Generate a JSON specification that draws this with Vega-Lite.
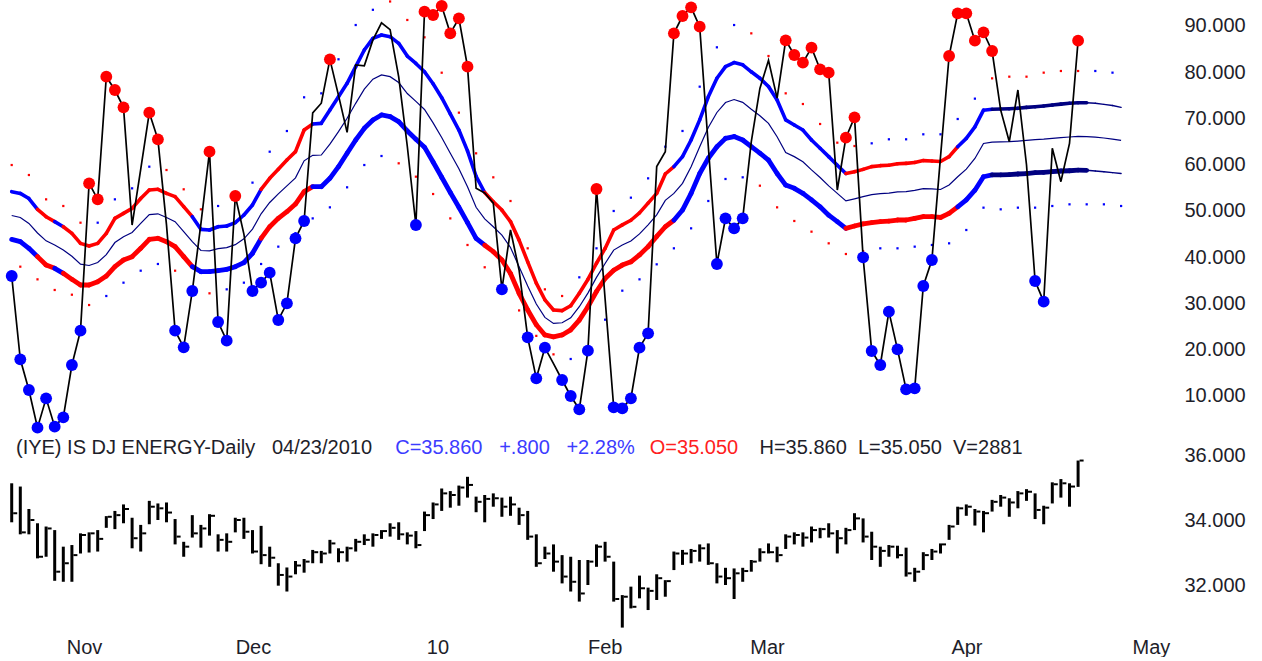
{
"$schema": "https://vega.github.io/schema/vega-lite/v6.json",
"width": 1170, "height": 630,
"padding": 0,
"view": {"stroke": null},
"data": {"values": [
{"i":0,"osc":35.94,"mk":"b","ub":54.18,"mb":49.03,"lb":43.87,"tr":"b","od":59.94,"dc":"r","h":35.16,"l":33.96,"c":34.24},
{"i":1,"osc":17.93,"mk":"b","ub":53.8,"mb":48.59,"lb":43.37,"tr":"b","od":37.96,"dc":"r","h":35.06,"l":33.59,"c":33.65},
{"i":2,"osc":11.3,"mk":"b","ub":52.7,"mb":47.32,"lb":41.93,"tr":"b","od":57.78,"dc":"r","h":34.37,"l":33.59,"c":34.03},
{"i":3,"osc":3.15,"mk":"b","ub":50.36,"mb":45.25,"lb":40.13,"tr":"r","od":35.22,"dc":"r","h":33.93,"l":32.85,"c":32.9},
{"i":4,"osc":9.49,"mk":"b","ub":48.77,"mb":43.55,"lb":38.32,"tr":"r","od":52.52,"dc":"r","h":33.83,"l":32.9,"c":33.77},
{"i":5,"osc":3.37,"mk":"b","ub":47.69,"mb":42.65,"lb":37.6,"tr":"b","od":32.92,"dc":"r","h":33.72,"l":32.16,"c":32.44},
{"i":6,"osc":5.39,"mk":"b","ub":46.6,"mb":41.56,"lb":36.52,"tr":"r","od":51.08,"dc":"r","h":33.21,"l":32.13,"c":32.7},
{"i":7,"osc":16.7,"mk":"b","ub":45.17,"mb":40.2,"lb":35.22,"tr":"r","od":31.9,"dc":"r","h":33.26,"l":32.13,"c":32.95},
{"i":8,"osc":24.12,"mk":"b","ub":43.0,"mb":38.5,"lb":34.0,"tr":"r","od":47.47,"dc":"r","h":33.62,"l":33.0,"c":33.57},
{"i":9,"osc":55.98,"mk":"r","ub":42.43,"mb":38.22,"lb":34.0,"tr":"r","od":29.67,"dc":"r","h":33.65,"l":33.03,"c":33.62},
{"i":10,"osc":52.52,"mk":"r","ub":43.0,"mb":38.86,"lb":34.72,"tr":"r","od":47.47,"dc":"b","h":33.72,"l":33.06,"c":33.45},
{"i":11,"osc":79.04,"mk":"r","ub":45.17,"mb":40.56,"lb":35.94,"tr":"r","od":31.62,"dc":"b","h":34.15,"l":33.79,"c":34.13},
{"i":12,"osc":76.16,"mk":"r","ub":48.4,"mb":43.18,"lb":37.96,"tr":"r","od":52.52,"dc":"b","h":34.31,"l":33.75,"c":34.18},
{"i":13,"osc":72.41,"mk":"r","ub":49.49,"mb":44.45,"lb":39.4,"tr":"r","od":34.5,"dc":"b","h":34.51,"l":33.93,"c":34.37},
{"i":14,"osc":46.97,"ub":50.57,"mb":45.35,"lb":40.13,"tr":"r","od":54.9,"dc":"b","h":34.1,"l":33.16,"c":33.47},
{"i":15,"osc":59.0,"ub":52.7,"mb":47.32,"lb":41.93,"tr":"r","od":37.09,"dc":"b","h":33.88,"l":33.06,"c":33.62},
{"i":16,"osc":71.26,"mk":"r","ub":54.54,"mb":49.21,"lb":43.87,"tr":"r","od":59.58,"dc":"b","h":34.62,"l":33.9,"c":34.44},
{"i":17,"osc":65.49,"mk":"r","ub":54.69,"mb":49.39,"lb":44.09,"tr":"r","od":38.54,"dc":"b","h":34.54,"l":34.03,"c":34.39},
{"i":18,"osc":47.0,"ub":53.82,"mb":48.6,"lb":43.37,"tr":"r","od":58.86,"dc":"r","h":34.57,"l":33.96,"c":34.26},
{"i":19,"osc":24.12,"mk":"b","ub":53.1,"mb":47.7,"lb":42.29,"tr":"r","od":37.09,"dc":"r","h":34.06,"l":33.28,"c":33.52},
{"i":20,"osc":20.52,"mk":"b","ub":50.94,"mb":45.54,"lb":40.13,"tr":"r","od":54.69,"dc":"r","h":33.36,"l":32.9,"c":33.21},
{"i":21,"osc":32.7,"mk":"b","ub":48.77,"mb":43.37,"lb":37.96,"tr":"b","od":32.3,"dc":"r","h":34.18,"l":33.49,"c":33.62},
{"i":22,"osc":47.2,"ub":46.03,"mb":41.46,"lb":36.88,"tr":"b","od":50.36,"dc":"r","h":33.88,"l":33.18,"c":33.77},
{"i":23,"osc":62.83,"mk":"r","ub":45.89,"mb":41.39,"lb":36.88,"tr":"b","od":32.2,"dc":"r","h":34.21,"l":33.55,"c":34.16},
{"i":24,"osc":26.0,"mk":"b","ub":46.6,"mb":41.85,"lb":37.1,"tr":"b","od":51.08,"dc":"b","h":33.59,"l":33.06,"c":33.42},
{"i":25,"osc":21.96,"mk":"b","ub":46.75,"mb":42.07,"lb":37.38,"tr":"b","od":33.06,"dc":"b","h":33.62,"l":33.06,"c":33.36},
{"i":26,"osc":53.24,"mk":"r","ub":47.47,"mb":42.72,"lb":37.96,"tr":"b","od":52.5,"dc":"b","h":34.1,"l":33.65,"c":34.03},
{"i":27,"osc":45.0,"ub":49.13,"mb":43.98,"lb":38.83,"tr":"b","od":34.5,"dc":"b","h":34.1,"l":33.45,"c":33.67},
{"i":28,"osc":32.7,"mk":"b","ub":51.3,"mb":46.08,"lb":40.85,"tr":"b","od":56.13,"dc":"b","h":33.72,"l":33.0,"c":33.06},
{"i":29,"osc":34.5,"mk":"b","ub":54.69,"mb":49.39,"lb":44.09,"tr":"r","od":38.54,"dc":"b","h":33.85,"l":32.67,"c":32.95},
{"i":30,"osc":36.67,"mk":"b","ub":57.06,"mb":51.84,"lb":46.61,"tr":"r","od":62.82,"dc":"b","h":33.21,"l":32.59,"c":32.87},
{"i":31,"osc":26.43,"mk":"b","ub":59.01,"mb":53.71,"lb":48.41,"tr":"r","od":42.29,"dc":"b","h":32.7,"l":32.01,"c":32.34},
{"i":32,"osc":30.03,"mk":"b","ub":61.03,"mb":55.44,"lb":49.85,"tr":"r","od":67.29,"dc":"b","h":32.57,"l":31.83,"c":32.29},
{"i":33,"osc":44.09,"mk":"b","ub":62.83,"mb":57.17,"lb":51.51,"tr":"r","od":45.2,"dc":"b","h":32.77,"l":32.36,"c":32.63},
{"i":34,"osc":47.84,"mk":"b","ub":67.51,"mb":60.85,"lb":54.18,"tr":"r","od":74.58,"dc":"b","h":32.83,"l":32.41,"c":32.75},
{"i":35,"osc":71.2,"ub":68.81,"mb":62.04,"lb":55.26,"tr":"b","od":48.4,"dc":"b","h":33.11,"l":32.7,"c":33.04},
{"i":36,"osc":73.3,"ub":68.95,"mb":62.1,"lb":55.26,"tr":"b","od":75.44,"dc":"b","h":33.08,"l":32.7,"c":33.0},
{"i":37,"osc":82.79,"mk":"r","ub":71.84,"mb":64.45,"lb":57.06,"tr":"b","od":50.79,"dc":"b","h":33.42,"l":33.0,"c":33.31},
{"i":38,"osc":75.0,"ub":74.72,"mb":67.15,"lb":59.58,"tr":"b","od":82.8,"dc":"b","h":33.16,"l":32.73,"c":33.04},
{"i":39,"osc":67.0,"ub":77.6,"mb":70.04,"lb":62.47,"tr":"b","od":55.12,"dc":"b","h":33.21,"l":32.75,"c":33.16},
{"i":40,"osc":81.6,"ub":81.2,"mb":73.28,"lb":65.35,"tr":"b","od":90.21,"dc":"b","h":33.45,"l":33.06,"c":33.36},
{"i":41,"osc":81.4,"ub":84.81,"mb":76.34,"lb":67.87,"tr":"b","od":59.94,"dc":"b","h":33.59,"l":33.26,"c":33.42},
{"i":42,"osc":87.0,"ub":87.33,"mb":78.5,"lb":69.67,"tr":"b","od":93.5,"dc":"b","h":33.62,"l":33.21,"c":33.57},
{"i":43,"osc":90.7,"ub":88.05,"mb":79.41,"lb":70.76,"tr":"b","od":61.89,"dc":"b","h":33.72,"l":33.45,"c":33.69},
{"i":44,"osc":89.2,"ub":87.69,"mb":79.05,"lb":70.4,"tr":"b","od":95.3,"dc":"r","h":33.93,"l":33.52,"c":33.79},
{"i":45,"osc":79.0,"ub":86.25,"mb":77.78,"lb":69.31,"tr":"b","od":60.31,"dc":"r","h":33.96,"l":33.42,"c":33.59},
{"i":46,"osc":64.0,"ub":83.5,"mb":75.4,"lb":67.3,"tr":"b","od":91.3,"dc":"r","h":33.65,"l":33.28,"c":33.55},
{"i":47,"osc":46.97,"mk":"b","ub":81.9,"mb":73.7,"lb":65.5,"tr":"b","od":57.42,"dc":"r","h":33.69,"l":33.16,"c":33.26},
{"i":48,"osc":93.1,"mk":"r","ub":80.1,"mb":71.95,"lb":63.8,"tr":"b","od":87.55,"dc":"r","h":34.29,"l":33.69,"c":34.18},
{"i":49,"osc":92.38,"mk":"r","ub":77.5,"mb":69.05,"lb":60.6,"tr":"b","od":53.67,"dc":"r","h":34.57,"l":34.06,"c":34.51},
{"i":50,"osc":94.32,"mk":"r","ub":74.5,"mb":65.9,"lb":57.3,"tr":"b","od":79.9,"dc":"r","h":35.0,"l":34.31,"c":34.85},
{"i":51,"osc":88.41,"mk":"r","ub":71.0,"mb":62.5,"lb":54.0,"tr":"b","od":48.4,"dc":"r","h":34.92,"l":34.41,"c":34.8},
{"i":52,"osc":91.66,"mk":"r","ub":67.5,"mb":59.15,"lb":50.8,"tr":"b","od":71.26,"dc":"r","h":35.09,"l":34.47,"c":35.03},
{"i":53,"osc":81.21,"mk":"r","ub":63.0,"mb":55.25,"lb":47.5,"tr":"b","od":42.65,"dc":"r","h":35.36,"l":34.72,"c":35.11},
{"i":54,"osc":54.9,"ub":57.5,"mb":50.8,"lb":44.1,"tr":"b","od":62.47,"dc":"r","h":34.75,"l":34.27,"c":34.59},
{"i":55,"osc":53.9,"ub":54.0,"mb":48.3,"lb":42.6,"tr":"r","od":37.83,"dc":"r","h":34.8,"l":33.96,"c":34.68},
{"i":56,"osc":51.7,"ub":52.0,"mb":46.6,"lb":41.2,"tr":"r","od":57.28,"dc":"r","h":34.85,"l":34.44,"c":34.7},
{"i":57,"osc":33.06,"mk":"b","ub":50.2,"mb":44.8,"lb":39.4,"tr":"r","od":33.0,"dc":"r","h":34.72,"l":34.13,"c":34.44},
{"i":58,"osc":45.9,"ub":47.7,"mb":42.1,"lb":36.5,"tr":"r","od":52.16,"dc":"r","h":34.75,"l":34.16,"c":34.51},
{"i":59,"osc":37.2,"ub":43.7,"mb":37.95,"lb":32.2,"tr":"r","od":28.5,"dc":"r","h":34.41,"l":33.88,"c":34.18},
{"i":60,"osc":22.68,"mk":"b","ub":39.0,"mb":33.8,"lb":28.6,"tr":"r","od":41.93,"dc":"r","h":34.31,"l":33.42,"c":33.52},
{"i":61,"osc":13.82,"mk":"b","ub":34.4,"mb":29.9,"lb":25.4,"tr":"r","od":23.0,"dc":"r","h":33.59,"l":32.59,"c":32.7},
{"i":62,"osc":20.45,"mk":"b","ub":30.8,"mb":27.0,"lb":23.2,"tr":"r","od":33.06,"dc":"r","h":33.21,"l":32.83,"c":33.0},
{"i":63,"osc":17.0,"ub":28.6,"mb":25.7,"lb":22.8,"tr":"r","od":19.0,"dc":"r","h":33.28,"l":32.44,"c":32.75},
{"i":64,"osc":13.46,"mk":"b","ub":28.45,"mb":25.83,"lb":23.2,"tr":"r","od":31.62,"dc":"r","h":32.95,"l":32.08,"c":32.29},
{"i":65,"osc":10.0,"mk":"b","ub":29.5,"mb":26.9,"lb":24.3,"tr":"r","od":18.0,"dc":"b","h":32.9,"l":31.83,"c":32.13},
{"i":66,"osc":7.12,"mk":"b","ub":32.2,"mb":29.3,"lb":26.4,"tr":"r","od":35.66,"dc":"b","h":32.8,"l":31.52,"c":31.77},
{"i":67,"osc":19.8,"mk":"b","ub":35.2,"mb":32.25,"lb":29.3,"tr":"r","od":20.5,"dc":"b","h":32.8,"l":32.03,"c":32.75},
{"i":68,"osc":54.76,"mk":"r","ub":38.7,"mb":35.65,"lb":32.6,"tr":"r","od":41.93,"dc":"b","h":33.28,"l":32.59,"c":33.21},
{"i":69,"osc":31.0,"ub":41.9,"mb":38.65,"lb":35.4,"tr":"r","od":26.5,"dc":"b","h":33.36,"l":32.75,"c":32.9},
{"i":70,"osc":7.55,"mk":"b","ub":45.9,"mb":41.55,"lb":37.2,"tr":"r","od":50.0,"dc":"b","h":32.75,"l":31.52,"c":31.6},
{"i":71,"osc":7.33,"mk":"b","ub":47.0,"mb":42.65,"lb":38.3,"tr":"r","od":32.77,"dc":"b","h":31.72,"l":30.72,"c":31.67},
{"i":72,"osc":9.49,"mk":"b","ub":48.0,"mb":43.5,"lb":39.0,"tr":"r","od":52.88,"dc":"b","h":31.98,"l":31.31,"c":31.36},
{"i":73,"osc":20.45,"mk":"b","ub":49.6,"mb":45.05,"lb":40.5,"tr":"r","od":35.22,"dc":"b","h":32.32,"l":31.62,"c":31.93},
{"i":74,"osc":23.55,"mk":"b","ub":51.7,"mb":47.0,"lb":42.3,"tr":"r","od":57.06,"dc":"b","h":31.95,"l":31.26,"c":31.85},
{"i":75,"osc":59.6,"ub":53.8,"mb":49.15,"lb":44.5,"tr":"r","od":38.47,"dc":"b","h":32.36,"l":31.57,"c":32.24},
{"i":76,"osc":62.8,"ub":58.0,"mb":52.3,"lb":46.6,"tr":"r","od":63.9,"dc":"b","h":32.18,"l":31.67,"c":32.15},
{"i":77,"osc":88.41,"mk":"r","ub":59.6,"mb":53.8,"lb":48.0,"tr":"b","od":41.93,"dc":"b","h":33.06,"l":32.49,"c":33.0},
{"i":78,"osc":92.16,"mk":"r","ub":61.75,"mb":55.98,"lb":50.2,"tr":"b","od":67.3,"dc":"b","h":33.11,"l":32.65,"c":33.0},
{"i":79,"osc":94.03,"mk":"r","ub":65.35,"mb":59.58,"lb":53.8,"tr":"b","od":46.25,"dc":"b","h":33.14,"l":32.7,"c":33.08},
{"i":80,"osc":89.85,"mk":"r","ub":69.7,"mb":63.9,"lb":58.1,"tr":"b","od":76.88,"dc":"b","h":33.28,"l":32.75,"c":33.16},
{"i":81,"osc":64.0,"ub":74.7,"mb":68.05,"lb":61.4,"tr":"b","od":52.16,"dc":"b","h":33.31,"l":32.65,"c":32.7},
{"i":82,"osc":38.54,"mk":"b","ub":78.7,"mb":71.3,"lb":63.9,"tr":"b","od":85.39,"dc":"b","h":32.7,"l":32.08,"c":32.29},
{"i":83,"osc":48.41,"mk":"b","ub":81.2,"mb":73.45,"lb":65.7,"tr":"b","od":56.92,"dc":"b","h":32.56,"l":32.03,"c":32.24},
{"i":84,"osc":46.25,"mk":"b","ub":82.1,"mb":74.1,"lb":66.1,"tr":"b","od":90.21,"dc":"b","h":32.54,"l":31.6,"c":32.39},
{"i":85,"osc":48.41,"mk":"b","ub":81.6,"mb":73.48,"lb":65.35,"tr":"b","od":57.28,"dc":"b","h":32.56,"l":32.13,"c":32.46},
{"i":86,"osc":65.0,"ub":80.1,"mb":72.0,"lb":63.9,"tr":"b","od":88.41,"dc":"r","h":32.8,"l":32.44,"c":32.75},
{"i":87,"osc":76.5,"ub":78.7,"mb":70.6,"lb":62.5,"tr":"b","od":55.47,"dc":"r","h":33.16,"l":32.75,"c":33.04},
{"i":88,"osc":82.6,"ub":76.9,"mb":68.95,"lb":61.0,"tr":"b","od":83.51,"dc":"r","h":33.31,"l":33.0,"c":33.04},
{"i":89,"osc":74.4,"ub":74.0,"mb":66.05,"lb":58.1,"tr":"b","od":50.79,"dc":"r","h":33.21,"l":32.73,"c":32.95},
{"i":90,"osc":86.9,"mk":"r","ub":69.7,"mb":62.65,"lb":55.6,"tr":"b","od":75.44,"dc":"r","h":33.59,"l":33.14,"c":33.52},
{"i":91,"osc":83.73,"mk":"r","ub":68.6,"mb":61.75,"lb":54.9,"tr":"b","od":47.84,"dc":"r","h":33.65,"l":33.28,"c":33.57},
{"i":92,"osc":82.07,"mk":"r","ub":67.5,"mb":60.65,"lb":53.8,"tr":"b","od":73.13,"dc":"r","h":33.65,"l":33.21,"c":33.49},
{"i":93,"osc":85.31,"mk":"r","ub":65.35,"mb":58.88,"lb":52.4,"tr":"b","od":45.53,"dc":"r","h":33.83,"l":33.34,"c":33.72},
{"i":94,"osc":80.63,"mk":"r","ub":63.55,"mb":57.23,"lb":50.9,"tr":"b","od":68.81,"dc":"r","h":33.79,"l":33.47,"c":33.75},
{"i":95,"osc":79.91,"mk":"r","ub":61.75,"mb":55.43,"lb":49.1,"tr":"b","od":43.01,"dc":"r","h":33.93,"l":33.49,"c":33.62},
{"i":96,"osc":54.54,"ub":59.9,"mb":53.8,"lb":47.7,"tr":"b","od":64.77,"dc":"r","h":33.72,"l":33.0,"c":33.47},
{"i":97,"osc":65.86,"mk":"r","ub":58.1,"mb":52.18,"lb":46.25,"tr":"r","od":40.7,"dc":"r","h":33.79,"l":33.28,"c":33.72},
{"i":98,"osc":70.25,"mk":"r","ub":58.5,"mb":52.63,"lb":46.75,"tr":"r","od":64.05,"dc":"r","h":34.24,"l":33.72,"c":34.08},
{"i":99,"osc":39.98,"mk":"b","ub":59.0,"mb":53.1,"lb":47.2,"tr":"r","od":41.3,"dc":"r","h":34.08,"l":33.34,"c":33.52},
{"i":100,"osc":19.73,"mk":"b","ub":59.6,"mb":53.55,"lb":47.5,"tr":"r","od":64.63,"dc":"b","h":33.67,"l":32.8,"c":33.21},
{"i":101,"osc":16.7,"mk":"b","ub":59.8,"mb":53.75,"lb":47.7,"tr":"r","od":41.93,"dc":"b","h":33.21,"l":32.59,"c":33.08},
{"i":102,"osc":28.23,"mk":"b","ub":59.9,"mb":53.85,"lb":47.8,"tr":"r","od":65.5,"dc":"b","h":33.26,"l":32.9,"c":33.21},
{"i":103,"osc":20.09,"mk":"b","ub":60.2,"mb":54.13,"lb":48.05,"tr":"r","od":41.93,"dc":"b","h":33.24,"l":32.85,"c":32.95},
{"i":104,"osc":11.44,"mk":"b","ub":60.3,"mb":54.18,"lb":48.05,"tr":"r","od":65.5,"dc":"b","h":33.18,"l":32.29,"c":32.39},
{"i":105,"osc":11.66,"mk":"b","ub":60.5,"mb":54.45,"lb":48.4,"tr":"r","od":42.29,"dc":"b","h":32.56,"l":32.13,"c":32.44},
{"i":106,"osc":33.78,"mk":"b","ub":60.9,"mb":54.85,"lb":48.8,"tr":"r","od":66.58,"dc":"b","h":33.04,"l":32.49,"c":32.95},
{"i":107,"osc":39.4,"mk":"b","ub":60.8,"mb":54.8,"lb":48.8,"tr":"r","od":42.65,"dc":"b","h":33.14,"l":32.8,"c":33.06},
{"i":108,"osc":61.7,"ub":60.7,"mb":54.65,"lb":48.6,"tr":"r","od":66.58,"dc":"b","h":33.31,"l":33.0,"c":33.28},
{"i":109,"osc":83.51,"mk":"r","ub":61.75,"mb":55.63,"lb":49.5,"tr":"r","od":43.01,"dc":"b","h":33.88,"l":33.42,"c":33.83},
{"i":110,"osc":92.74,"mk":"r","ub":63.9,"mb":57.4,"lb":50.9,"tr":"b","od":69.89,"dc":"b","h":34.44,"l":33.88,"c":34.39},
{"i":111,"osc":92.74,"mk":"r","ub":65.7,"mb":59.05,"lb":52.4,"tr":"b","od":45.89,"dc":"b","h":34.51,"l":34.16,"c":34.44},
{"i":112,"osc":86.83,"mk":"r","ub":68.2,"mb":61.35,"lb":54.5,"tr":"b","od":74.29,"dc":"b","h":34.37,"l":33.86,"c":34.29},
{"i":113,"osc":88.63,"mk":"r","ub":71.8,"mb":64.6,"lb":57.4,"tr":"b","od":50.72,"dc":"b","h":34.31,"l":33.65,"c":34.24},
{"i":114,"osc":84.59,"mk":"r","ub":72.0,"mb":64.9,"lb":57.8,"tr":"n","od":78.68,"dc":"r","h":34.65,"l":34.29,"c":34.59},
{"i":115,"osc":71.8,"ub":72.05,"mb":64.93,"lb":57.8,"tr":"n","od":50.36,"dc":"b","h":34.8,"l":34.44,"c":34.72},
{"i":116,"osc":64.99,"ub":72.1,"mb":64.98,"lb":57.85,"tr":"n","od":79.04,"dc":"r","h":34.7,"l":34.13,"c":34.57},
{"i":117,"osc":76.16,"ub":72.2,"mb":65.1,"lb":58.0,"tr":"n","od":50.72,"dc":"b","h":34.92,"l":34.39,"c":34.85},
{"i":118,"osc":60.0,"ub":72.4,"mb":65.25,"lb":58.1,"tr":"n","od":79.04,"dc":"r","h":34.98,"l":34.62,"c":34.9},
{"i":119,"osc":34.86,"mk":"b","ub":72.55,"mb":65.43,"lb":58.3,"tr":"n","od":50.72,"dc":"b","h":34.85,"l":34.06,"c":34.34},
{"i":120,"osc":30.4,"mk":"b","ub":72.7,"mb":65.53,"lb":58.35,"tr":"n","od":79.91,"dc":"r","h":34.47,"l":33.9,"c":34.41},
{"i":121,"osc":63.55,"ub":72.9,"mb":65.7,"lb":58.5,"tr":"n","od":51.08,"dc":"b","h":35.19,"l":34.54,"c":35.13},
{"i":122,"osc":56.34,"ub":73.1,"mb":65.88,"lb":58.65,"tr":"n","od":80.27,"dc":"r","h":35.29,"l":34.72,"c":35.16},
{"i":123,"osc":64.6,"ub":73.3,"mb":66.0,"lb":58.7,"tr":"n","od":51.44,"dc":"b","h":35.16,"l":34.44,"c":35.06},
{"i":124,"osc":86.83,"mk":"r","ub":73.4,"mb":66.13,"lb":58.85,"tr":"n","od":80.27,"dc":"r","h":35.86,"l":35.05,"c":35.86},
{"i":125,"ub":73.4,"mb":66.1,"lb":58.8,"tr":"p","od":51.44,"dc":"b"},
{"i":126,"ub":73.3,"mb":65.98,"lb":58.65,"tr":"p","od":80.27,"dc":"b"},
{"i":127,"ub":73.05,"mb":65.78,"lb":58.5,"tr":"p","od":51.44,"dc":"b"},
{"i":128,"ub":72.8,"mb":65.55,"lb":58.3,"tr":"p","od":79.91,"dc":"b"},
{"i":129,"ub":72.4,"mb":65.25,"lb":58.1,"tr":"p","od":51.08,"dc":"b"}
]},
"encoding": {"x": {"field": "i", "type": "quantitative", "scale": {"domain": [-1.3605, 134.686], "nice": false, "zero": false}, "axis": null}},
"resolve": {"scale": {"y": "independent"}},
"layer": [
{"transform": [{"filter": "isValid(datum.od)"}],
 "mark": {"type": "point", "shape": "square", "size": 5, "filled": true, "opacity": 1, "strokeWidth": 0, "clip": true},
 "encoding": {"y": {"field": "od", "type": "quantitative", "scale": {"domain": [-40.596, 95.62], "nice": false, "zero": false}, "axis": null},
  "color": {"field": "dc", "type": "nominal", "scale": {"domain": ["b","r","n","p"], "range": ["#0000ff","#ff0000","#000080","#000080"]}, "legend": null}}},
{"mark": {"type": "line", "color": "#000080", "strokeWidth": 1.2},
 "encoding": {"y": {"field": "mb", "type": "quantitative", "scale": {"domain": [-40.596, 95.62], "nice": false, "zero": false},
  "axis": {"orient": "right", "values": [10,20,30,40,50,60,70,80,90], "format": ".3f", "title": null, "labelPadding": 14, "grid": false, "ticks": false, "domain": false, "labelFontSize": 20, "labelColor": "#1e1e2a", "labelFont": "Liberation Sans"}}}},
{"transform": [{"window": [{"op": "lead", "field": "ub", "as": "ub2"}, {"op": "lead", "field": "i", "as": "i2"}], "sort": [{"field": "i"}]}, {"filter": "isValid(datum.i2)"}],
 "mark": {"type": "rule", "strokeCap": "round"},
 "encoding": {"x2": {"field": "i2"}, "y": {"field": "ub", "type": "quantitative", "scale": {"domain": [-40.596, 95.62], "nice": false, "zero": false},
   "axis": {"orient": "right", "labels": false, "ticks": false, "domain": false, "grid": false, "title": "(IYE) IS DJ ENERGY-Daily\u00a0\u00a0\u00a004/23/2010", "titleAngle": 0, "titleX": -976.5, "titleY": 447, "titleAlign": "center", "titleBaseline": "middle", "titleFontSize": 20, "titleFontWeight": "normal", "titleFont": "Liberation Sans", "titleColor": "#1e1e2a", "titleLimit": 2000, "titlePadding": 0}},
  "y2": {"field": "ub2"},
  "color": {"field": "tr", "type": "nominal", "scale": {"domain": ["b","r","n","p"], "range": ["#0000ff","#ff0000","#000080","#000080"]}, "legend": null},
  "strokeWidth": {"condition": {"test": "datum.tr == 'p'", "value": 1.4}, "value": 3.6}}},
{"transform": [{"window": [{"op": "lead", "field": "lb", "as": "lb2"}, {"op": "lead", "field": "i", "as": "i2"}], "sort": [{"field": "i"}]}, {"filter": "isValid(datum.i2)"}],
 "mark": {"type": "rule", "strokeCap": "round"},
 "encoding": {"x2": {"field": "i2"}, "y": {"field": "lb", "type": "quantitative", "scale": {"domain": [-40.596, 95.62], "nice": false, "zero": false},
   "axis": {"orient": "right", "labels": false, "ticks": false, "domain": false, "grid": false, "title": "C=35.860\u00a0\u00a0\u00a0+.800\u00a0\u00a0\u00a0+2.28%", "titleAngle": 0, "titleX": -655.5, "titleY": 447, "titleAlign": "center", "titleBaseline": "middle", "titleFontSize": 20, "titleFontWeight": "normal", "titleFont": "Liberation Sans", "titleColor": "#3c3cff", "titleLimit": 2000, "titlePadding": 0}},
  "y2": {"field": "lb2"},
  "color": {"field": "tr", "type": "nominal", "scale": {"domain": ["b","r","n","p"], "range": ["#0000ff","#ff0000","#000080","#000080"]}, "legend": null},
  "strokeWidth": {"condition": {"test": "datum.tr == 'p'", "value": 1.4}, "value": 4.8}}},
{"transform": [{"filter": "isValid(datum.osc)"}],
 "mark": {"type": "line", "color": "#000000", "strokeWidth": 1.7},
 "encoding": {"y": {"field": "osc", "type": "quantitative", "scale": {"domain": [-40.596, 95.62], "nice": false, "zero": false},
   "axis": {"orient": "right", "labels": false, "ticks": false, "domain": false, "grid": false, "title": "O=35.050", "titleAngle": 0, "titleX": -476.5, "titleY": 447, "titleAlign": "center", "titleBaseline": "middle", "titleFontSize": 20, "titleFontWeight": "normal", "titleFont": "Liberation Sans", "titleColor": "#ff2020", "titleLimit": 2000, "titlePadding": 0}}}},
{"transform": [{"filter": "isValid(datum.mk)"}],
 "mark": {"type": "point", "shape": "circle", "size": 140, "filled": true, "opacity": 1, "strokeWidth": 0, "clip": true},
 "encoding": {"y": {"field": "osc", "type": "quantitative", "scale": {"domain": [-40.596, 95.62], "nice": false, "zero": false}, "axis": null},
  "color": {"field": "mk", "type": "nominal", "scale": {"domain": ["b","r","n","p"], "range": ["#0000ff","#ff0000","#000080","#000080"]}, "legend": null}}},
{"transform": [{"filter": "isValid(datum.h)"}],
 "mark": {"type": "rule", "color": "#000000", "strokeWidth": 3},
 "encoding": {
  "y": {"field": "l", "type": "quantitative", "scale": {"domain": [30.646, 50.031], "nice": false, "zero": false},
  "axis": {"orient": "right", "values": [32, 34, 36], "format": ".3f", "labelPadding": 14, "grid": false, "ticks": false, "domain": false, "labelFontSize": 20, "labelColor": "#1e1e2a", "labelFont": "Liberation Sans",
   "title": "Nov\u00a0\u00a0\u00a0\u00a0\u00a0\u00a0\u00a0\u00a0\u00a0\u00a0\u00a0\u00a0\u00a0\u00a0\u00a0\u00a0\u00a0\u00a0\u00a0\u00a0\u00a0\u00a0\u00a0\u00a0Dec\u00a0\u00a0\u00a0\u00a0\u00a0\u00a0\u00a0\u00a0\u00a0\u00a0\u00a0\u00a0\u00a0\u00a0\u00a0\u00a0\u00a0\u00a0\u00a0\u00a0\u00a0\u00a0\u00a0\u00a0\u00a0\u00a0\u00a0\u00a010\u00a0\u00a0\u00a0\u00a0\u00a0\u00a0\u00a0\u00a0\u00a0\u00a0\u00a0\u00a0\u00a0\u00a0\u00a0\u00a0\u00a0\u00a0\u00a0\u00a0\u00a0\u00a0\u00a0\u00a0\u00a0Feb\u00a0\u00a0\u00a0\u00a0\u00a0\u00a0\u00a0\u00a0\u00a0\u00a0\u00a0\u00a0\u00a0\u00a0\u00a0\u00a0\u00a0\u00a0\u00a0\u00a0\u00a0\u00a0\u00a0Mar\u00a0\u00a0\u00a0\u00a0\u00a0\u00a0\u00a0\u00a0\u00a0\u00a0\u00a0\u00a0\u00a0\u00a0\u00a0\u00a0\u00a0\u00a0\u00a0\u00a0\u00a0\u00a0\u00a0\u00a0\u00a0\u00a0\u00a0\u00a0\u00a0\u00a0Apr\u00a0\u00a0\u00a0\u00a0\u00a0\u00a0\u00a0\u00a0\u00a0\u00a0\u00a0\u00a0\u00a0\u00a0\u00a0\u00a0\u00a0\u00a0\u00a0\u00a0\u00a0\u00a0\u00a0\u00a0\u00a0\u00a0\u00a0May",
   "titleAngle": 0, "titleX": -551.96, "titleY": 647, "titleAlign": "center", "titleBaseline": "middle", "titleFontSize": 20, "titleFontWeight": "normal", "titleFont": "Liberation Sans", "titleColor": "#1e1e2a", "titleLimit": 2000, "titlePadding": 0}},
  "y2": {"field": "h"}}},
{"transform": [{"filter": "isValid(datum.c)"}],
 "mark": {"type": "tick", "orient": "horizontal", "size": 4, "thickness": 2, "xOffset": 3.5, "color": "#000000", "opacity": 1},
 "encoding": {"y": {"field": "c", "type": "quantitative", "scale": {"domain": [30.646, 50.031], "nice": false, "zero": false},
   "axis": {"orient": "right", "labels": false, "ticks": false, "domain": false, "grid": false, "title": "H=35.860\u00a0\u00a0L=35.050\u00a0\u00a0V=2881", "titleAngle": 0, "titleX": -279.5, "titleY": 447, "titleAlign": "center", "titleBaseline": "middle", "titleFontSize": 20, "titleFontWeight": "normal", "titleFont": "Liberation Sans", "titleColor": "#1e1e2a", "titleLimit": 2000, "titlePadding": 0}}}}
]
}
